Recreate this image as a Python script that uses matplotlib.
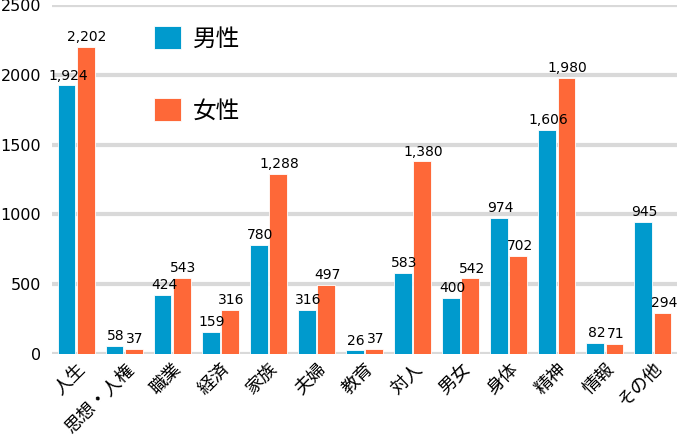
import matplotlib.pyplot as plt
import matplotlib.transforms as mtransforms
import numpy as np

plt.rcParams['font.family'] = ['Noto Sans CJK JP', 'DejaVu Sans']

categories = ["人生", "思想・人権", "職業", "経済", "家族", "夫婦", "教育",
              "対人", "男女", "身体", "精神", "情報", "その他"]
male = [1924, 58, 424, 159, 780, 316, 26, 583, 400, 974, 1606, 82, 945]
female = [2202, 37, 543, 316, 1288, 497, 37, 1380, 542, 702, 1980, 71, 294]
yticks = [0, 500, 1000, 1500, 2000, 2500]

blue = "#009acd"
orange = "#fe6838"

fig = plt.figure(figsize=(6.77, 4.38), dpi=100)
ax = fig.add_axes([52 / 677, 84 / 438, 625 / 677, 349 / 438])

x = np.arange(len(categories))
w = 0.37
b1 = ax.bar(x - 0.2, male, w, color=blue, edgecolor="#ffffff", linewidth=0.6, label="男性")
b2 = ax.bar(x + 0.2, female, w, color=orange, edgecolor="#ffffff", linewidth=0.6, label="女性")

for bars, vals in ((b1, male), (b2, female)):
    for r, v in zip(bars, vals):
        ax.annotate(f"{v:,}", (r.get_x() + r.get_width() / 2, v),
                    xytext=(1, 2), textcoords="offset points",
                    ha="center", va="bottom", fontsize=10, family="DejaVu Sans")

ax.set_xlim(-0.5, 12.5)
ax.set_ylim(0, 2500)
ax.set_yticks(yticks)
ax.set_yticklabels([str(t) for t in yticks], fontsize=11.5, family="DejaVu Sans")
ax.set_xticks(x)
ax.set_xticklabels(categories, rotation=45, ha="right", rotation_mode="anchor", fontsize=13)
shift = mtransforms.ScaledTranslation(12 / 100, 0, fig.dpi_scale_trans)
for lab in ax.get_xticklabels():
    lab.set_transform(lab.get_transform() + shift)
ax.tick_params(length=0)
ax.tick_params(axis="y", pad=8)
ax.tick_params(axis="x", pad=4)
ax.yaxis.grid(True, color="#d9d9d9", linewidth=3)
ax.set_axisbelow(True)
for s in ax.spines.values():
    s.set_visible(False)

ax.legend(loc="upper left", bbox_to_anchor=(0.163, 0.94), frameon=False,
          fontsize=17, labelspacing=2.0, handlelength=1.15, handleheight=1.15,
          handletextpad=0.5, borderpad=0, borderaxespad=0)

plt.savefig("out.png", dpi=100)
